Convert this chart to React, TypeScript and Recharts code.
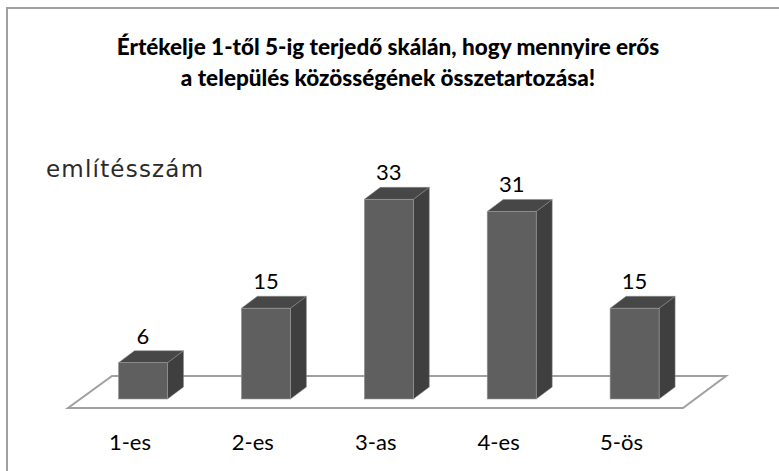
// 3D-style column chart: "Értékelje 1-től 5-ig ..." (említésszám)
import { BarChart, Bar, XAxis, YAxis, LabelList, ReferenceArea } from 'recharts';

const categories = ['1-es', '2-es', '3-as', '4-es', '5-ös'];
const counts = [6, 15, 33, 31, 15];
const titleLines = [
  'Értékelje 1-től 5-ig terjedő skálán, hogy mennyire erős',
  'a település közösségének összetartozása!',
];
const axisTitle = 'említésszám';

const data = categories.map((name, i) => ({ name, value: counts[i] }));

// depth of the pseudo 3D bars and of the floor
const DX = 16;
const DY = 12;

const FONT = 'Lato, "Open Sans", sans-serif';

function Bar3D(props: any) {
  const { x, y, width, height } = props;
  if (!height || height <= 0) return null;
  const top = `${x},${y} ${x + DX},${y - DY} ${x + width + DX},${y - DY} ${x + width},${y}`;
  const side = `${x + width},${y} ${x + width + DX},${y - DY} ${x + width + DX},${y + height - DY} ${x + width},${y + height}`;
  return (
    <g>
      <polygon points={side} fill="#3f3f3f" stroke="#8a8a8a" strokeWidth={0.5} />
      <polygon points={top} fill="#474747" stroke="#8a8a8a" strokeWidth={0.5} />
      <rect x={x} y={y} width={width} height={height} fill="#5f5f5f" stroke="#9a9a9a" strokeWidth={0.6} />
    </g>
  );
}

// floor plane under the bars, parallelogram following the plot area
function Floor(props: any) {
  const { x, y, width, height } = props;
  const base = y + height;
  const pts = [
    [x - 13.5, base + 9],
    [x + width - 13, base + 9],
    [x + width + 30, base - 23],
    [x + 30.5, base - 23],
  ]
    .map((p) => p.join(','))
    .join(' ');
  return <polygon points={pts} fill="#fff" stroke="#a0a0a0" strokeWidth={2} />;
}

function CategoryTick(props: any) {
  const { x, y, payload } = props;
  return (
    <text
      x={x - 13}
      y={y + 43}
      textAnchor="middle"
      fill="#000"
      fontSize={22}
      fontFamily={FONT}
    >
      {payload.value}
    </text>
  );
}

export default function App() {
  return (
    <div
      style={{
        position: 'absolute',
        left: 0,
        top: 0,
        width: 779,
        height: 471,
        overflow: 'hidden',
        background: '#fff',
      }}
    >
      {/* chart frame (only top and left edges fall inside the picture) */}
      <div
        style={{
          position: 'absolute',
          left: 6,
          top: 7,
          width: 820,
          height: 520,
          border: '2px solid #a0a0a0',
        }}
      />
      <div
        style={{
          position: 'absolute',
          left: 0,
          top: 31,
          width: 776,
          textAlign: 'center',
          fontFamily: FONT,
          fontWeight: 900,
          fontSize: 22.5,
          lineHeight: '31px',
          color: '#000',
        }}
      >
        {titleLines.map((t) => (
          <div key={t}>{t}</div>
        ))}
      </div>
      <div
        style={{
          position: 'absolute',
          left: 46,
          top: 156,
          fontFamily: '"DejaVu Sans", sans-serif',
          fontSize: 23,
          letterSpacing: 1.2,
          color: '#2a2a2a',
        }}
      >
        {axisTitle}
      </div>
      <div style={{ position: 'absolute', left: 0, top: 0 }}>
        <BarChart
          width={779}
          height={471}
          data={data}
          margin={{ top: 157, right: 83, bottom: 42, left: 81.5 }}
          barCategoryGap={0}
        >
          <XAxis
            dataKey="name"
            axisLine={false}
            tickLine={false}
            tick={<CategoryTick />}
            height={30}
            interval={0}
          />
          <YAxis hide domain={[0, 40]} />
          <ReferenceArea y1={0} y2={1} shape={<Floor />} ifOverflow="visible" />
          <Bar dataKey="value" barSize={49} shape={<Bar3D />} isAnimationActive={false}>
            <LabelList
              dataKey="value"
              position="top"
              offset={19}
              fill="#000"
              fontSize={22}
              fontFamily={FONT}
            />
          </Bar>
        </BarChart>
      </div>
    </div>
  );
}
